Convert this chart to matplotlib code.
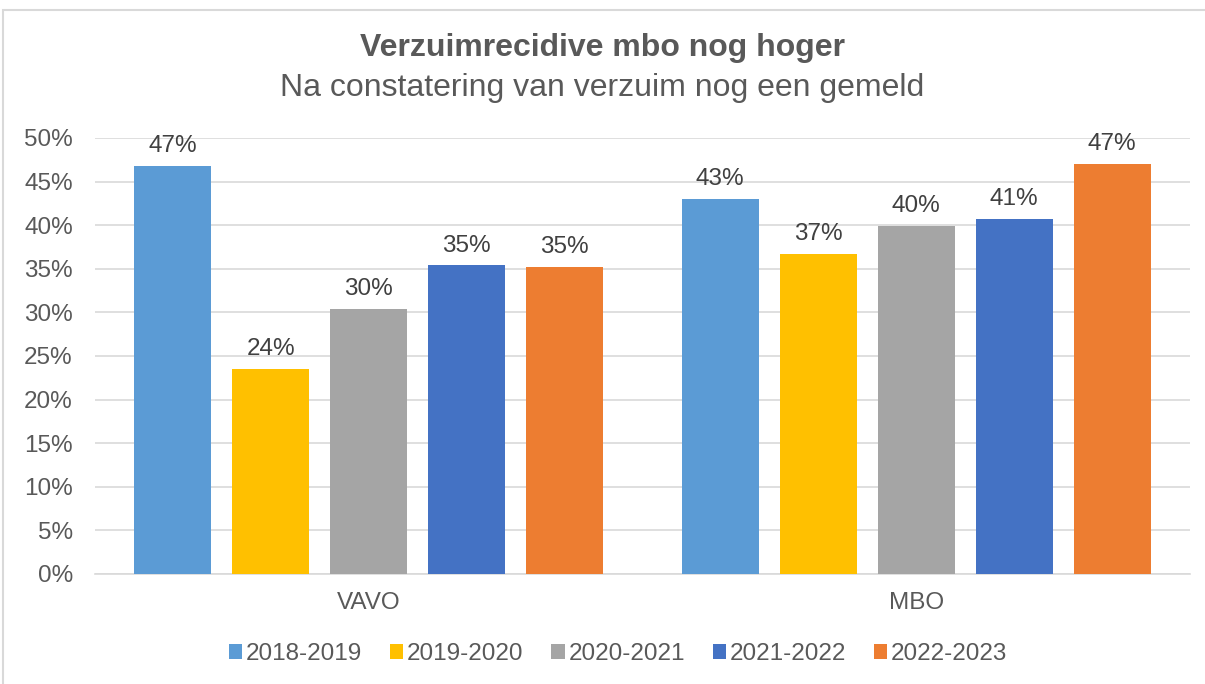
import numpy as np
import matplotlib.pyplot as plt
from matplotlib.patches import Rectangle

plt.rcParams['font.family'] = ['Liberation Sans', 'DejaVu Sans']

groups = ['VAVO', 'MBO']
years = ['2018-2019', '2019-2020', '2020-2021', '2021-2022', '2022-2023']
values = {
    '2018-2019': [46.8, 43.0],
    '2019-2020': [23.5, 36.7],
    '2020-2021': [30.4, 39.9],
    '2021-2022': [35.4, 40.7],
    '2022-2023': [35.2, 47.0],
}
colors = ['#5B9BD5', '#FFC000', '#A5A5A5', '#4472C4', '#ED7D31']
text_col = '#595959'

fig = plt.figure(figsize=(12.05, 6.84), dpi=100)
# chart border
fig.patches.append(Rectangle((3 / 1205, -0.01), 1.02, 1 - 10 / 684 + 0.01, transform=fig.transFigure,
                             fill=False, edgecolor='#D9D9D9', linewidth=1.5))
ax = fig.add_axes([95 / 1205, 1 - 574 / 684, (1190 - 95) / 1205, (574 - 138) / 684])

x = np.arange(len(groups))
width = 0.1406
step = 0.179
for i, (yr, c) in enumerate(zip(years, colors)):
    pos = x + (i - 2) * step
    bars = ax.bar(pos, values[yr], width, color=c, label=yr, zorder=3)
    for b, v in zip(bars, values[yr]):
        ax.text(b.get_x() + b.get_width() / 2, v + 1.0, f'{v:.0f}%', ha='center', va='bottom',
                fontsize=17.5, color='#404040')

ax.set_xlim(-0.5, 1.5)
ax.set_ylim(0, 50)
ax.set_yticks(np.arange(0, 51, 5))
ax.set_yticklabels([f'{t}%' for t in range(0, 51, 5)])
ax.set_xticks(x)
ax.set_xticklabels(groups)
ax.tick_params(axis='both', length=0, labelsize=17.5, labelcolor=text_col)
ax.tick_params(axis='x', pad=13)
ax.tick_params(axis='y', pad=16)
ax.grid(axis='y', color='#D9D9D9', linewidth=1.2, zorder=0)
for s in ['top', 'right', 'left']:
    ax.spines[s].set_visible(False)
ax.spines['bottom'].set_color('#D9D9D9')
ax.spines['bottom'].set_linewidth(1.2)

fig.text(0.5, 1 - 48 / 684, 'Verzuimrecidive mbo nog hoger', ha='center', va='center',
         fontsize=23, fontweight='bold', color=text_col)
fig.text(0.5, 1 - 88 / 684, 'Na constatering van verzuim nog een gemeld', ha='center', va='center',
         fontsize=23, color=text_col)

leg = fig.legend(loc='center', bbox_to_anchor=(618 / 1205, 1 - 654 / 684), ncol=5, frameon=False,
                 fontsize=17.5, handlelength=0.55, handleheight=0.55, handletextpad=0.15,
                 columnspacing=1.15)
for t in leg.get_texts():
    t.set_color(text_col)

fig.savefig('out.png', dpi=100)
